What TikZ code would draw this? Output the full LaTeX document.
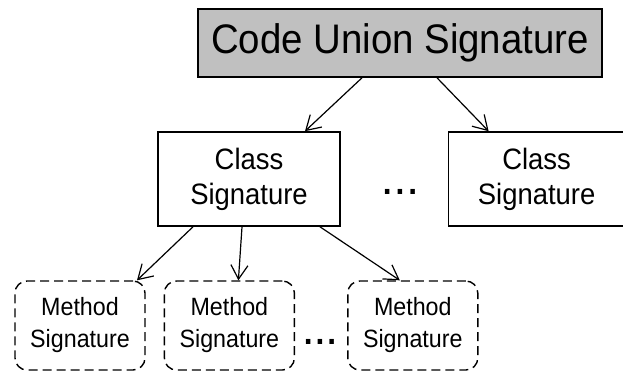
\documentclass[tikz,border=0pt]{standalone}
\usepackage{fontspec}
\setsansfont[FakeStretch=0.93]{Liberation Sans}
\usepackage{tikz}
\usetikzlibrary{arrows.meta,positioning}
\definecolor{sigfill}{HTML}{C0C0C0}

\begin{document}
\begin{tikzpicture}[x=1pt,y=1pt,
			box/.style={draw,line width=1.6pt,align=center,inner sep=0pt,font=\sffamily},
			unionbox/.style={box,fill=sigfill,minimum width=404pt,minimum height=68pt,font=\sffamily\fontsize{41.3}{46}\selectfont},
			classbox/.style={box,minimum width=182pt,minimum height=94pt,font=\sffamily\fontsize{29.5}{35}\selectfont},
			methodbox/.style={draw,line width=1.4pt,dash pattern=on 9pt off 5pt,rounded corners=12pt,align=center,inner sep=0pt,
				minimum width=130pt,minimum height=89pt,font=\sffamily\fontsize{25}{32}\selectfont},
			dots/.style={inner sep=0pt,font=\sffamily\bfseries\fontsize{34}{30}\selectfont},
			arr/.style={-{Straight Barb[length=14pt,width=17pt]},line width=1.2pt}
			]
			\useasboundingbox (0,0) rectangle (623,-373);
			\node[unionbox] (cus) at (400,-43) {Code Union Signature};
			\node[classbox] (cls1) at (249,-179) {Class\\Signature};
			\node[classbox,minimum width=176pt] (cls2) [right=107pt of cls1] {Class\\Signature};
			\node[dots] (cdots) at (400,-192) {.\hspace{4pt}.\hspace{4pt}.};
			\node[methodbox] (m1) at (80,-325.5) {Method\\Signature};
			\node[methodbox] (m2) [right=18pt of m1] {Method\\Signature};
			\node[methodbox] (m3) [right=52pt of m2] {Method\\Signature};
			\node[dots] (mdots) at (320,-342) {.\hspace{3pt}.\hspace{3pt}.};
			% union -> classes
			\draw[arr] ([xshift=-38pt]cus.south) -- ([xshift=56pt]cls1.north);
			\draw[arr] ([xshift=37pt]cus.south) -- ([xshift=-48pt]cls2.north);
			% class -> methods
			\draw[arr] ([xshift=-56pt]cls1.south) -- ([xshift=57pt]m1.north);
			\draw[arr] ([xshift=-7pt]cls1.south) -- ([xshift=9pt]m2.north);
			\draw[arr] ([xshift=71pt]cls1.south) -- ([xshift=-13pt]m3.north);
		\end{tikzpicture}
\end{document}
